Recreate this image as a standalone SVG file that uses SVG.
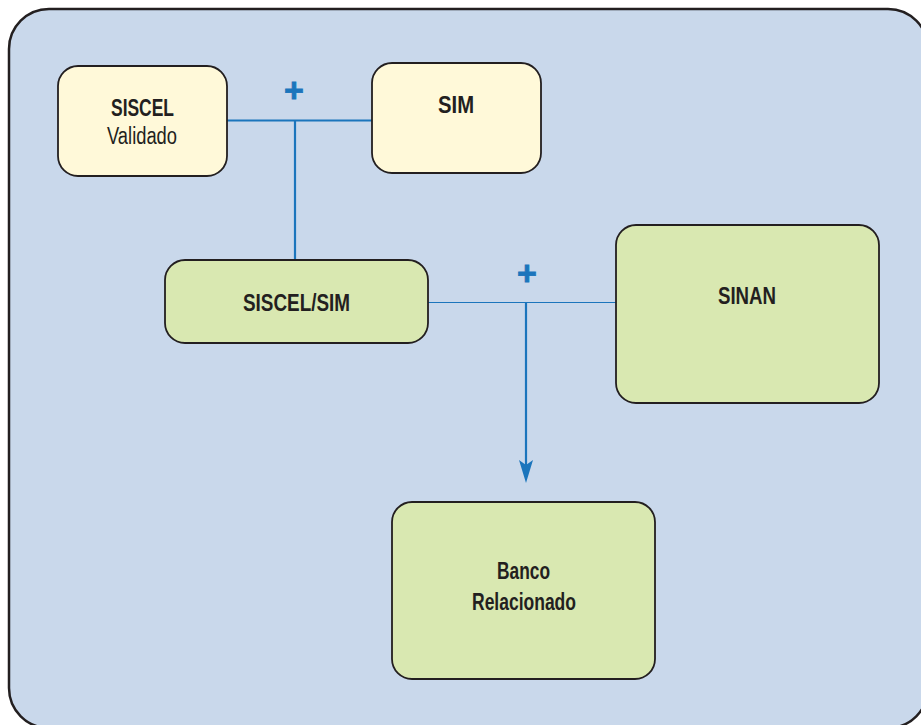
<svg xmlns="http://www.w3.org/2000/svg" width="921" height="725" viewBox="0 0 921 725">
<defs>
<style>
.box{stroke:#231f20;stroke-width:1.8}
.y{fill:#fff9d9}
.g{fill:#d9e8b1}
.t{font-family:"Liberation Sans",Arial,sans-serif;font-weight:bold;font-size:23px;fill:#231f20;text-anchor:middle}
.r{font-weight:normal}
.c{stroke:#1b75bc;fill:none}
.plus{font-family:"Liberation Sans",Arial,sans-serif;font-weight:bold;font-size:34px;fill:#1b75bc;stroke:#1b75bc;stroke-width:0.8;text-anchor:middle}
</style>
</defs>
<rect x="0" y="0" width="921" height="725" fill="#ffffff"/>
<rect id="frame" x="9" y="9" width="919" height="719" rx="40" ry="40" fill="#c9d8eb" stroke="#231f20" stroke-width="2.5"/>
<g id="connectors">
<line class="c" x1="227" y1="120.5" x2="372" y2="120.5" stroke-width="2.2"/>
<line class="c" x1="295" y1="120" x2="295" y2="260" stroke-width="2.2"/>
<line class="c" x1="428" y1="302.5" x2="616" y2="302.5" stroke-width="1.2"/>
<line class="c" x1="526" y1="302" x2="526" y2="466" stroke-width="2.2"/>
<path d="M519,460 L526,465 L533,460 L526,483 Z" fill="#1b75bc"/>
<text class="plus" x="294" y="102">+</text>
<text class="plus" x="527" y="285">+</text>
</g>
<g id="siscel">
<rect class="box y" x="58" y="66" width="169" height="110" rx="20"/>
<text class="t" x="142.5" y="116" textLength="63" lengthAdjust="spacingAndGlyphs">SISCEL</text>
<text class="t r" x="142" y="144" textLength="70" lengthAdjust="spacingAndGlyphs">Validado</text>
</g>
<g id="sim">
<rect class="box y" x="372" y="63" width="169" height="110" rx="20"/>
<text class="t" x="456" y="113" textLength="36" lengthAdjust="spacingAndGlyphs">SIM</text>
</g>
<g id="siscel-sim">
<rect class="box g" x="165" y="260" width="263" height="83" rx="20"/>
<text class="t" x="296.5" y="311" textLength="107" lengthAdjust="spacingAndGlyphs">SISCEL/SIM</text>
</g>
<g id="sinan">
<rect class="box g" x="616" y="225" width="263" height="178" rx="20"/>
<text class="t" x="747" y="304" textLength="58" lengthAdjust="spacingAndGlyphs">SINAN</text>
</g>
<g id="banco">
<rect class="box g" x="392" y="502" width="263" height="177" rx="20"/>
<text class="t" x="523.5" y="579" textLength="53" lengthAdjust="spacingAndGlyphs">Banco</text>
<text class="t" x="524" y="610" textLength="104" lengthAdjust="spacingAndGlyphs">Relacionado</text>
</g>
</svg>
